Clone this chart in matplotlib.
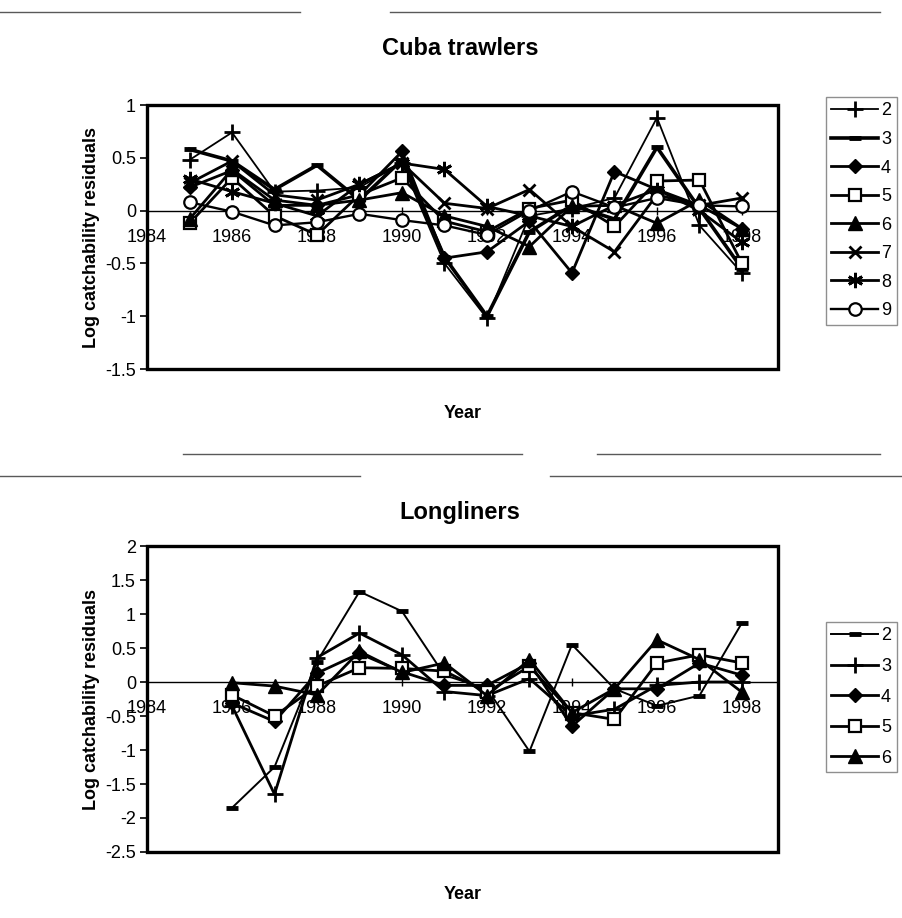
import matplotlib

matplotlib.use("Agg")
import matplotlib.pyplot as plt
from matplotlib.lines import Line2D
from matplotlib.patches import Rectangle

plt.rcParams["font.family"] = ["Liberation Sans", "DejaVu Sans"]

# ── Data ──────────────────────────────────────────────────────────────────────

years_trawl = list(range(1985, 1999))
trawl_labels = ["2", "3", "4", "5", "6", "7", "8", "9"]
trawl_2 = [0.48, 0.74, 0.18, 0.19, 0.22, 0.45, -0.50, -1.02, -0.05, 0.02, 0.12, 0.88, -0.14, -0.59]
trawl_3 = [0.58, 0.47, 0.20, 0.43, 0.10, 0.48, -0.44, -1.00, -0.20, 0.05, -0.08, 0.60, 0.02, -0.55]
trawl_4 = [0.22, 0.38, 0.05, 0.05, 0.15, 0.56, -0.45, -0.39, -0.10, -0.59, 0.37, 0.20, 0.05, -0.17]
trawl_5 = [-0.12, 0.31, -0.05, -0.23, 0.15, 0.31, -0.10, -0.20, 0.02, 0.10, -0.15, 0.28, 0.29, -0.50]
trawl_6 = [-0.08, 0.39, 0.10, 0.05, 0.10, 0.17, -0.05, -0.15, -0.34, 0.04, 0.05, -0.12, 0.10, -0.17]
trawl_7 = [0.26, 0.47, 0.15, 0.10, 0.25, 0.45, 0.07, 0.02, 0.20, -0.15, -0.39, 0.15, 0.05, 0.12]
trawl_8 = [0.30, 0.18, 0.07, -0.05, 0.25, 0.45, 0.39, 0.04, -0.05, -0.15, 0.05, 0.20, 0.00, -0.30]
trawl_9 = [0.08, -0.01, -0.14, -0.11, -0.03, -0.09, -0.14, -0.23, 0.00, 0.18, 0.03, 0.12, 0.05, 0.04]

years_long = list(range(1986, 1999))
long_labels = ["2", "3", "4", "5", "6"]
long_2 = [-1.85, -1.25, 0.30, 1.33, 1.04, 0.10, -0.10, -1.02, 0.55, -0.10, -0.35, -0.20, 0.87]
long_3 = [-0.35, -1.65, 0.36, 0.72, 0.40, -0.14, -0.20, 0.05, -0.50, -0.40, -0.05, 0.00, 0.00]
long_4 = [-0.31, -0.58, 0.13, 0.42, 0.15, -0.05, -0.05, 0.28, -0.65, -0.10, -0.10, 0.28, 0.10]
long_5 = [-0.19, -0.50, -0.06, 0.21, 0.20, 0.16, -0.15, 0.23, -0.45, -0.55, 0.28, 0.40, 0.28]
long_6 = [-0.01, -0.06, -0.19, 0.45, 0.14, 0.28, -0.20, 0.33, -0.45, -0.10, 0.62, 0.33, -0.15]

x_ticks = list(range(1984, 1999, 2))
trawl_yticks = [1, 0.5, 0, -0.5, -1, -1.5]
long_yticks = [2, 1.5, 1, 0.5, 0, -0.5, -1, -1.5, -2, -2.5]

# ── Styles (Excel-ish black markers) ──────────────────────────────────────────

ASTERISK = (6, 2, 0)
STYLE = {
    "plus": dict(marker="+", ms=11, mew=2, mfc="k"),
    "dash": dict(marker="_", ms=8, mew=3.5, mfc="k"),
    "diamond": dict(marker="D", ms=7.5, mfc="k"),
    "square": dict(marker="s", ms=8.5, mfc="white", mew=1.6),
    "triangle": dict(marker="^", ms=9.5, mfc="k"),
    "cross": dict(marker="x", ms=9, mew=2),
    "aster": dict(marker=ASTERISK, ms=11, mew=2),
    "circle": dict(marker="o", ms=9, mfc="white", mew=1.6),
}

FS_TICK = 13
FS_LABEL = 13
FS_TITLE = 17


def style_axis(ax, ylim, yticks, xlabel_y):
    ax.set_xlim(1984, 1998.85)
    ax.set_ylim(*ylim)
    ax.set_xticks(x_ticks)
    ax.set_yticks(yticks)
    ax.set_yticklabels([f"{t:g}" for t in yticks])
    for side in ["top", "right", "left"]:
        ax.spines[side].set_visible(False)
    ax.spines["bottom"].set_position(("data", 0))
    ax.spines["bottom"].set_linewidth(1.0)
    ax.add_patch(
        Rectangle((0, 0), 1, 1, transform=ax.transAxes, fill=False,
                  lw=2.4, ec="k", clip_on=False, zorder=5)
    )
    ax.tick_params(axis="x", direction="inout", length=6, width=1,
                   pad=10, labelsize=FS_TICK)
    ax.tick_params(axis="y", direction="out", length=5, width=1.2,
                   pad=3, labelsize=FS_TICK)
    ax.set_ylabel("Log catchability residuals", fontsize=FS_LABEL,
                  fontweight="bold")
    ax.yaxis.set_label_coords(-0.074, 0.5)
    ax.set_xlabel("Year", fontsize=FS_LABEL, fontweight="bold")
    ax.xaxis.set_label_coords(0.5, xlabel_y)


fig = plt.figure(figsize=(9.02, 9.18), dpi=100)

# ── Cuba trawlers ─────────────────────────────────────────────────────────────

ax1 = fig.add_axes([0.163, 0.598, 0.6996, 0.2876])
trawl_series = [
    (trawl_2, "plus", 1.3),
    (trawl_3, "dash", 2.6),
    (trawl_4, "diamond", 2.0),
    (trawl_5, "square", 2.0),
    (trawl_6, "triangle", 2.0),
    (trawl_7, "cross", 2.0),
    (trawl_8, "aster", 2.0),
    (trawl_9, "circle", 1.7),
]
for (vals, key, lw), lab in zip(trawl_series, trawl_labels):
    ax1.plot(years_trawl, vals, color="k", lw=lw, mec="k", label=lab,
             clip_on=False, zorder=3, **STYLE[key])
style_axis(ax1, (-1.5, 1), trawl_yticks, -0.136)
fig.text(0.51, 0.947, "Cuba trawlers", ha="center", va="center",
         fontsize=FS_TITLE, fontweight="bold")
ax1.legend(loc="upper left", bbox_to_anchor=(826 / 902, 1 - 97 / 918),
           bbox_transform=fig.transFigure, fontsize=FS_TICK, handlelength=2.6,
           handletextpad=0.15, labelspacing=0.64, borderpad=0.3,
           frameon=True, fancybox=False, edgecolor="0.45", borderaxespad=0)

# ── Longliners ────────────────────────────────────────────────────────────────

ax2 = fig.add_axes([0.163, 0.0719, 0.6996, 0.3333])
long_series = [
    (long_2, "dash", 1.4),
    (long_3, "plus", 2.0),
    (long_4, "diamond", 2.0),
    (long_5, "square", 2.0),
    (long_6, "triangle", 2.0),
]
for (vals, key, lw), lab in zip(long_series, long_labels):
    ax2.plot(years_long, vals, color="k", lw=lw, mec="k", label=lab,
             clip_on=False, zorder=3, **STYLE[key])
style_axis(ax2, (-2.5, 2), long_yticks, -0.111)
fig.text(0.51, 1 - 512 / 918, "Longliners", ha="center", va="center",
         fontsize=FS_TITLE, fontweight="bold")
ax2.legend(loc="upper left", bbox_to_anchor=(826 / 902, 1 - 622 / 918),
           bbox_transform=fig.transFigure, fontsize=FS_TICK, handlelength=2.6,
           handletextpad=0.15, labelspacing=0.75, borderpad=0.3,
           frameon=True, fancybox=False, edgecolor="0.45", borderaxespad=0)

# ── scanned page rules ────────────────────────────────────────────────────────

W, H = 902, 918
for x0, x1, y in [(0, 300, 12), (390, 880, 12), (183, 522, 454),
                  (597, 880, 454), (0, 360, 476), (550, 902, 476)]:
    fig.add_artist(Line2D([x0 / W, x1 / W], [1 - y / H, 1 - y / H],
                          transform=fig.transFigure, color="0.35", lw=1))

fig.savefig("out.png", dpi=100)
